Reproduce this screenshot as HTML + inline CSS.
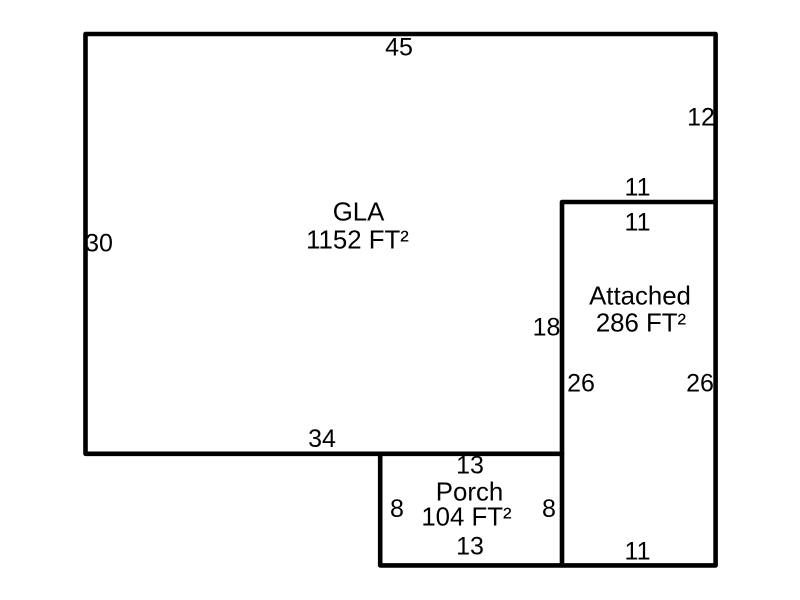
<!DOCTYPE html>
<html>
<head>
<meta charset="utf-8">
<style>
html,body{margin:0;padding:0;background:#fff;width:800px;height:600px;overflow:hidden}
svg{display:block}
text{font-family:"Liberation Sans",Arial,sans-serif;font-size:25px;fill:#000;text-anchor:middle}
text.a{font-size:25.8px}
</style>
</head>
<body>
<svg width="800" height="600" viewBox="0 0 800 600" xmlns="http://www.w3.org/2000/svg">
<g fill="none" stroke="#000" stroke-width="4.6" stroke-linecap="round" stroke-linejoin="round">
<path d="M85.5 34H715.6V565.4H380.2V453.8H85.5Z"/>
<path d="M562 565.4V202H715.6"/>
<path d="M380.2 453.8H562"/>
</g>
<text x="399" y="55.5">45</text>
<text x="701" y="125.5">12</text>
<text x="99" y="251.5">30</text>
<text x="322" y="447">34</text>
<text x="637.5" y="195.5">11</text>
<text x="637.5" y="230.5">11</text>
<text x="546.5" y="335.5">18</text>
<text x="581" y="391.5">26</text>
<text x="700" y="391.5">26</text>
<text x="637.5" y="559.5">11</text>
<text x="470" y="473.5">13</text>
<text x="470" y="554.5">13</text>
<text x="397" y="517">8</text>
<text x="549" y="517">8</text>
<text class="a" x="358.5" y="220.5">GLA</text>
<text class="a" x="357.5" y="248.5">1152 FT²</text>
<text class="a" x="640" y="304.5">Attached</text>
<text class="a" x="641" y="331.5">286 FT²</text>
<text class="a" x="469.5" y="500.5">Porch</text>
<text class="a" x="466.5" y="525.5">104 FT²</text>
</svg>
</body>
</html>
